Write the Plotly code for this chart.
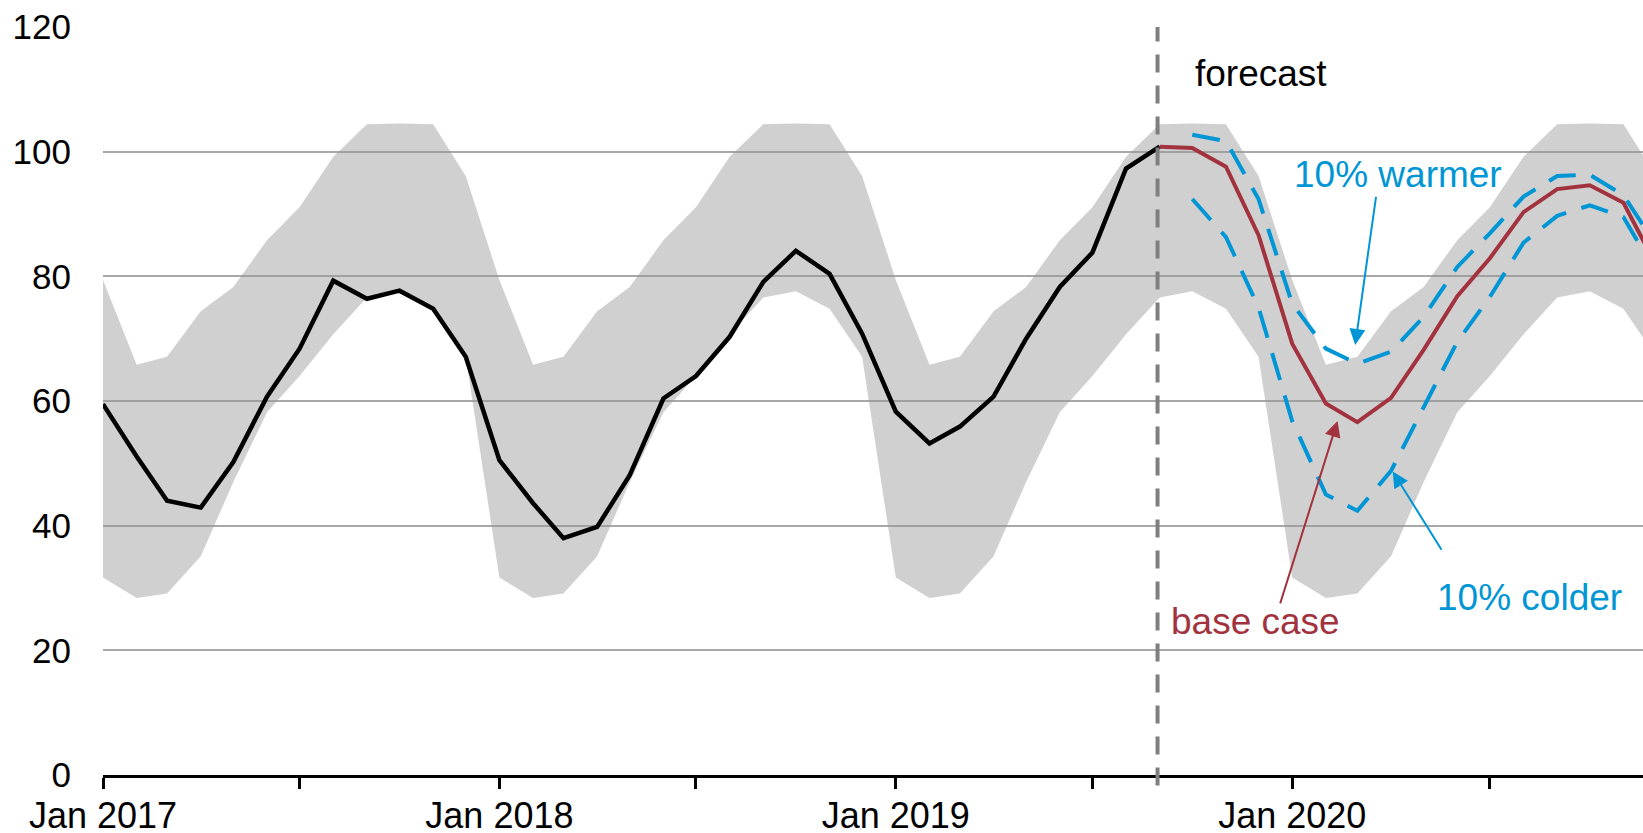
import pandas as pd
import plotly.graph_objects as go

# ---------------- data ----------------
months = pd.date_range("2017-01-01", periods=48, freq="MS")

history = [59.5, 51.1, 44.0, 42.9, 50.2, 60.7, 68.4, 79.3, 76.4, 77.7, 74.8, 67.1,
           50.5, 43.6, 38.0, 39.8, 48.1, 60.4, 64.0, 70.3, 79.1, 84.1, 80.4, 70.8,
           58.3, 53.2, 55.9, 60.7, 70.0, 78.3, 83.8, 97.3, 100.8]

base_case = [100.8, 100.6, 97.6, 86.6, 69.2, 59.6, 56.6, 60.5, 68.2, 76.8, 82.9, 90.3,
             94.0, 94.6, 91.8, 81.8]
warmer = [None, 102.7, 101.7, 92.4, 75.6, 68.4, 66.0, 67.9, 73.5, 81.5, 86.9, 92.8,
          96.1, 96.3, 93.0, 85.0]
colder = [None, 92.4, 86.3, 75.0, 56.8, 45.0, 42.4, 48.8, 58.9, 69.5, 76.7, 85.4,
          89.7, 91.4, 89.5, 80.5]

band_upper = [79.4, 65.8, 67.1, 74.4, 78.3, 85.8, 91.1, 99.2, 104.4, 104.5, 104.4, 96.1,
              79.4, 65.8, 67.1, 74.4, 78.3, 85.8, 91.1, 99.2, 104.4, 104.5, 104.4, 96.1,
              79.4, 65.8, 67.1, 74.4, 78.3, 85.8, 91.1, 99.2, 104.4, 104.5, 104.4, 96.1,
              79.4, 65.8, 67.1, 74.4, 78.3, 85.8, 91.1, 99.2, 104.4, 104.5, 104.4, 96.1]
band_lower = [31.7, 28.4, 29.1, 35.1, 47.0, 58.2, 64.0, 70.7, 76.6, 77.6, 74.8, 67.1,
              31.7, 28.4, 29.1, 35.1, 47.0, 58.2, 64.0, 70.7, 76.6, 77.6, 74.8, 67.1,
              31.7, 28.4, 29.1, 35.1, 47.0, 58.2, 64.0, 70.7, 76.6, 77.6, 74.8, 67.1,
              31.7, 28.4, 29.1, 35.1, 47.0, 58.2, 64.0, 70.7, 76.6, 77.6, 74.8, 67.1]

tick_vals = ["2017-01-01", "2017-07-01", "2018-01-01", "2018-07-01",
             "2019-01-01", "2019-07-01", "2020-01-01", "2020-07-01"]
tick_text = ["Jan 2017", "", "Jan 2018", "", "Jan 2019", "", "Jan 2020", ""]
y_ticks = [0, 20, 40, 60, 80, 100, 120]

forecast_start = "2019-08-30"

# ---------------- style ----------------
FONT = "Liberation Sans, Arial, sans-serif"
FS = 36
RED = "#a3323f"
BLUE = "#0096d6"


def mdate(m):
    """fractional months after Jan 2017 -> date string (for label placement)"""
    base = pd.Timestamp("2017-01-01")
    whole = int(m)
    d = base + pd.DateOffset(months=whole)
    nxt = base + pd.DateOffset(months=whole + 1)
    return str(d + (nxt - d) * (m - whole))


hist_x = months[:len(history)]
fc_x = months[len(history) - 1:len(history) - 1 + len(base_case)]

fig = go.Figure()
fig.add_trace(go.Scatter(x=months, y=band_lower, mode="lines", line=dict(width=0),
                         hoverinfo="skip", showlegend=False))
fig.add_trace(go.Scatter(x=months, y=band_upper, mode="lines", line=dict(width=0),
                         fill="tonexty", fillcolor="rgba(150,150,150,0.45)",
                         hoverinfo="skip", showlegend=False))
fig.add_trace(go.Scatter(x=hist_x, y=history, mode="lines",
                         line=dict(color="black", width=4.5), showlegend=False))
fig.add_trace(go.Scatter(x=fc_x, y=warmer, mode="lines",
                         line=dict(color=BLUE, width=4, dash="28px,16px"), showlegend=False))
fig.add_trace(go.Scatter(x=fc_x, y=colder, mode="lines",
                         line=dict(color=BLUE, width=4, dash="28px,16px"), showlegend=False))
fig.add_trace(go.Scatter(x=fc_x, y=base_case, mode="lines",
                         line=dict(color=RED, width=4), showlegend=False))

fig.add_shape(type="line", xref="x", yref="paper", x0=forecast_start, x1=forecast_start,
              y0=-0.014, y1=1, line=dict(color="#7f7f7f", width=4, dash="18px,13px"),
              layer="above")

annos = [
    dict(x=mdate(35.07), y=112.6, text="forecast", color="black"),
    dict(x=mdate(39.21), y=96.3, text="10% warmer", color=BLUE),
    dict(x=mdate(34.92), y=24.6, text="base case", color=RED),
    dict(x=mdate(43.18), y=28.4, text="10% colder", color=BLUE),
]
for a in annos:
    fig.add_annotation(x=a["x"], y=a["y"], xref="x", yref="y", text=a["text"],
                       showarrow=False, xanchor="center", yanchor="middle",
                       font=dict(family=FONT, size=37, color=a["color"]))

arrows = [
    (38.56, 93.0, 37.93, 69.0, BLUE),
    (35.63, 27.3, 37.37, 56.8, RED),
    (40.56, 35.9, 39.05, 48.7, BLUE),
]
for tx, ty, hx, hy, c in arrows:
    fig.add_annotation(x=mdate(hx), y=hy, ax=mdate(tx), ay=ty, xref="x", yref="y",
                       axref="x", ayref="y", text="", showarrow=True, arrowhead=2,
                       arrowsize=1.6, arrowwidth=2, arrowcolor=c)

fig.update_layout(
    width=1643, height=833,
    margin=dict(l=103, r=0, t=27, b=58),
    paper_bgcolor="white", plot_bgcolor="white",
    font=dict(family=FONT, size=FS, color="black"),
    showlegend=False,
)
fig.update_xaxes(
    type="date", range=["2017-01-01", mdate(46.6)],
    tickvals=tick_vals, ticktext=tick_text,
    ticks="outside", ticklen=11, tickwidth=2.5, tickcolor="black",
    showline=True, linecolor="black", linewidth=3,
    showgrid=False, zeroline=False, automargin=False,
    ticklabelstandoff=-4,
    tickfont=dict(family=FONT, size=FS, color="black"),
)
fig.update_yaxes(
    range=[0, 120], tickvals=y_ticks, ticks="",
    showgrid=True, gridcolor="#a8a8a8", gridwidth=1.5,
    zeroline=False, showline=False, automargin=False,
    ticklabelstandoff=31,
    tickfont=dict(family=FONT, size=35, color="black"),
)

fig.write_html("out.html", config={"displayModeBar": False},
               post_script="document.body.style.margin='0';")
